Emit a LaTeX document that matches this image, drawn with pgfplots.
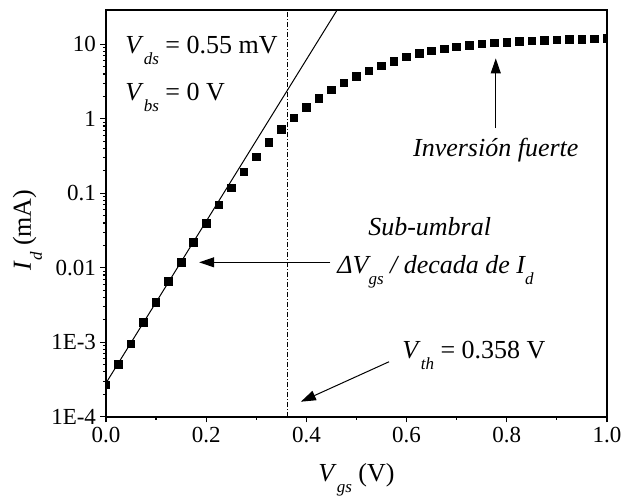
\documentclass[border=0pt]{standalone}
\usepackage{fontspec}
\setmainfont{Liberation Serif}
\usepackage{pgfplots}
\pgfplotsset{compat=1.18}
\usetikzlibrary{arrows.meta}

% Origin-style low subscript
\newcommand{\sub}[1]{\raisebox{-5.5pt}{\fontsize{8.5}{9}\selectfont\itshape #1}}

\begin{document}
\begin{tikzpicture}[every node/.style={inner sep=0pt},
  arr/.style={-{Triangle[length=7.5pt,width=5pt]}, line width=0.5pt}]
\useasboundingbox (-53pt,-41.15pt) rectangle (258pt,208.35pt);
\begin{axis}[
  at={(0,0)}, anchor=south west,
  scale only axis, width=250.5pt, height=203.3pt,
  xmin=0, xmax=1, ymin=1e-4, ymax=28.8, ymode=log,
  xtick={0,0.2,0.4,0.6,0.8,1}, minor x tick num=1,
  xticklabel style={/pgf/number format/.cd, fixed, fixed zerofill, precision=1},
  ytick={1e-4,1e-3,1e-2,0.1,1,10},
  yticklabels={1E-4,1E-3,0.01,0.1,1,10},
  /pgf/number format/assume math mode=true,
  tick label style={font=\fontsize{11.5}{13}\selectfont, inner sep=2pt},
  tick align=outside, tick pos=left,
  major tick length=2.8pt, minor tick length=1.5pt,
  every tick/.style={black, line width=0.6pt},
  axis line style={line width=1pt},
  clip marker paths=true,
]
% subthreshold fit
\addplot[black, line width=0.5pt] coordinates {(0,2.83e-4) (0.5,76)};
% measured Id
\addplot[only marks, mark=square*, mark size=1.9pt, black] coordinates {
  (0.000,2.66e-4) (0.025,5.05e-4) (0.050,9.55e-4) (0.075,1.83e-3)
  (0.100,3.43e-3) (0.125,6.5e-3) (0.150,0.0119) (0.175,0.0219)
  (0.200,0.0394) (0.225,0.0695) (0.250,0.1186) (0.275,0.1945)
  (0.300,0.309) (0.325,0.482) (0.350,0.721) (0.375,1.03)
  (0.400,1.41) (0.425,1.88) (0.450,2.43) (0.475,3.04)
  (0.500,3.74) (0.525,4.37) (0.550,5.14) (0.575,5.95)
  (0.600,6.8) (0.625,7.54) (0.650,8.18) (0.675,8.7)
  (0.700,9.25) (0.725,9.75) (0.750,10.1) (0.775,10.4)
  (0.800,10.6) (0.825,10.85) (0.850,11.05) (0.875,11.25)
  (0.900,11.4) (0.925,11.55) (0.950,11.7) (0.975,11.8) (1.000,11.9)};
% threshold voltage
\addplot[black, line width=0.5pt, dash pattern=on 2.5pt off 1pt on 0.5pt off 1pt]
  coordinates {(0.362,1e-4) (0.362,28.8)};

\node[anchor=base west, font=\fontsize{13}{15}\selectfont] at (axis cs:0.038,7.6)
  {\textit{V}\sub{ds} = 0.55 mV};
\node[anchor=base west, font=\fontsize{13}{15}\selectfont] at (axis cs:0.038,1.78)
  {\textit{V}\sub{bs} = 0 V};
\node[anchor=base, font=\fontsize{13}{15}\selectfont\itshape] at (axis cs:0.778,0.309)
  {Inversión fuerte};
\draw[arr] (axis cs:0.778,0.75) -- (axis cs:0.778,6.47);
\node[anchor=base, font=\fontsize{13}{15}\selectfont\itshape] at (axis cs:0.646,0.0275)
  {Sub-umbral};
\node[anchor=base west, font=\fontsize{13}{15}\selectfont\itshape] at (axis cs:0.461,0.0084)
  {\textit{ΔV}\sub{gs} / decada de \textit{I}\sub{d}};
\draw[arr] (axis cs:0.448,0.01183) -- (axis cs:0.186,0.01183);
\node[anchor=base west, font=\fontsize{13}{15}\selectfont] at (axis cs:0.591,6.08e-4)
  {\textit{V}\sub{th} = 0.358 V};
\draw[arr] (axis cs:0.565,5.47e-4) -- (axis cs:0.389,1.59e-4);
\end{axis}
% axis titles
\node[rotate=90, anchor=base, font=\fontsize{13}{15}\selectfont] at (-37.5pt,93.3pt)
  {\textit{I}\sub{d} (mA)};
\node[anchor=base, font=\fontsize{13}{15}\selectfont] at (125.25pt,-32.5pt)
  {\textit{V}\sub{gs} (V)};
\end{tikzpicture}
\end{document}
